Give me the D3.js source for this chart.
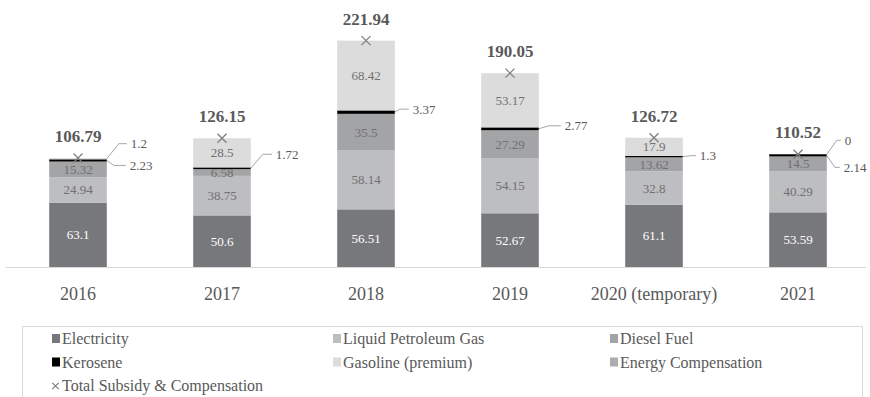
<!DOCTYPE html>
<html>
<head>
<meta charset="utf-8">
<script src="https://cdn.jsdelivr.net/npm/d3@7"></script>
<style>
  html, body { margin: 0; padding: 0; background: #fff; }
  svg { display: block; font-family: "Liberation Serif", "Times New Roman", serif; }
</style>
</head>
<body>
<svg id="chart" width="870" height="397"></svg>
<script>
// Subsidy & compensation by component (trillion rupiah)
const years = ["2016", "2017", "2018", "2019", "2020 (temporary)", "2021"];
const electricity = [63.1, 50.6, 56.51, 52.67, 61.1, 53.59];
const lpg = [24.94, 38.75, 58.14, 54.15, 32.8, 40.29];
const diesel = [15.32, 6.58, 35.5, 27.29, 13.62, 14.5];
const kerosene = [2.23, 1.72, 3.37, 2.77, 1.3, 2.14];
const gasoline = [1.2, 28.5, 68.42, 53.17, 17.9, 0];
const energyComp = [0, 0, 0, 0, 0, 0];
const totals = [106.79, 126.15, 221.94, 190.05, 126.72, 110.52];
const yTicks = [0, 50, 100, 150, 200, 250];

const seriesNames = ["Electricity", "Liquid Petroleum Gas", "Diesel Fuel", "Kerosene", "Gasoline (premium)", "Energy Compensation"];
const seriesKeys = ["electricity", "lpg", "diesel", "kerosene", "gasoline", "energyComp"];
const seriesValues = [electricity, lpg, diesel, kerosene, gasoline, energyComp];
const totalName = "Total Subsidy & Compensation";

// styling
const fills = {
  electricity: "#77787b", lpg: "#bdbec0", diesel: "#a3a4a6",
  kerosene: "#000000", gasoline: "#dcdcdd", energyComp: "#adadae"
};
const textGray = "#595959";
const innerGray = "#707070";

// leader-line placement for the thin segments: elbow offset from the
// bar's right edge / segment middle, then a short horizontal run
const leaders = [
  { year: "2016", key: "gasoline", dx: 12, dy: -15, len: 8 },
  { year: "2016", key: "kerosene", dx: 7, dy: 5, len: 12 },
  { year: "2017", key: "kerosene", dx: 12, dy: -14, len: 9 },
  { year: "2018", key: "kerosene", dx: 5, dy: -3, len: 9 },
  { year: "2019", key: "kerosene", dx: 10, dy: -3, len: 12 },
  { year: "2020 (temporary)", key: "kerosene", dx: 8, dy: -1, len: 5 },
  { year: "2021", key: "gasoline", dx: 10, dy: -14, len: 4 },
  { year: "2021", key: "kerosene", dx: 8, dy: 12, len: 5 }
];

const table = years.map((y, i) => {
  const row = { year: y, total: totals[i] };
  seriesKeys.forEach((k, j) => row[k] = seriesValues[j][i]);
  return row;
});

const svg = d3.select("#chart");

const x = d3.scaleBand().domain(years).range([6, 870]).paddingInner(0.6).paddingOuter(0.3);
const y = d3.scaleLinear().domain([yTicks[0], yTicks[yTicks.length - 1]]).range([267, 12]);

const stacked = d3.stack().keys(seriesKeys)(table);

// bars
const layers = svg.append("g").selectAll("g")
  .data(stacked).join("g")
  .attr("fill", d => fills[d.key]);

layers.selectAll("rect")
  .data(d => d.map(s => ({ key: d.key, s })))
  .join("rect")
  .attr("x", d => x(d.s.data.year))
  .attr("width", x.bandwidth())
  .attr("y", d => y(d.s[1]))
  .attr("height", d => Math.max(0, y(d.s[0]) - y(d.s[1])));

// baseline axis
const axis = svg.append("g").attr("transform", `translate(0,${y(0)})`)
  .call(d3.axisBottom(x).tickSize(0).tickPadding(0));
axis.select(".domain").attr("stroke", "#d9d9d9").attr("stroke-width", 1.2)
  .attr("d", `M6,0.5H866`);
axis.selectAll(".tick text")
  .attr("y", 33).attr("dy", 0)
  .attr("font-size", 18)
  .attr("font-family", "Liberation Serif, serif")
  .attr("fill", textGray);

// inside-segment value labels
const leaderSet = new Set(leaders.map(l => l.year + "|" + l.key));
const inside = [];
stacked.forEach(layer => {
  layer.forEach(s => {
    const v = s.data[layer.key];
    if (v > 0 && !leaderSet.has(s.data.year + "|" + layer.key)) {
      inside.push({ key: layer.key, year: s.data.year, v, mid: (s[0] + s[1]) / 2 });
    }
  });
});
svg.append("g").selectAll("text")
  .data(inside).join("text")
  .attr("x", d => x(d.year) + x.bandwidth() / 2)
  .attr("y", d => y(d.mid))
  .attr("dy", "0.35em")
  .attr("text-anchor", "middle")
  .attr("font-size", 13)
  .attr("fill", d => d.key === "electricity" ? "#ffffff" : innerGray)
  .text(d => d.v);

// leader lines + labels for the thin segments
const lg = svg.append("g");
leaders.forEach(l => {
  const layer = stacked.find(s => s.key === l.key);
  const s = layer.find(p => p.data.year === l.year);
  const x0 = x(l.year) + x.bandwidth();
  const y0 = y((s[0] + s[1]) / 2);
  const ex = x0 + l.dx, ey = y0 + l.dy;
  lg.append("path")
    .attr("d", `M${x0},${y0}L${ex},${ey}H${ex + l.len}`)
    .attr("fill", "none").attr("stroke", "#a6a6a6").attr("stroke-width", 1);
  lg.append("text")
    .attr("x", ex + l.len + 4).attr("y", ey).attr("dy", "0.35em")
    .attr("font-size", 13).attr("fill", textGray)
    .text(s.data[l.key]);
});

// totals: x markers and bold labels
const cross = (cx, cy, r) => `M${cx - r},${cy - r}L${cx + r},${cy + r}M${cx - r},${cy + r}L${cx + r},${cy - r}`;
svg.append("g").selectAll("path")
  .data(table).join("path")
  .attr("d", d => cross(x(d.year) + x.bandwidth() / 2, y(d.total), 4.5))
  .attr("stroke", "#7f7f7f").attr("stroke-width", 1.3).attr("fill", "none");

svg.append("g").selectAll("text")
  .data(table).join("text")
  .attr("x", d => x(d.year) + x.bandwidth() / 2)
  .attr("y", d => y(d.total) - 16)
  .attr("text-anchor", "middle")
  .attr("font-size", 17).attr("font-weight", "bold")
  .attr("fill", textGray)
  .text(d => d.total);

// legend
const legend = svg.append("g");
legend.append("rect")
  .attr("x", 22.5).attr("y", 326.5).attr("width", 840).attr("height", 90)
  .attr("fill", "none").attr("stroke", "#d9d9d9").attr("stroke-width", 1);

const colX = [52, 333, 610];
const rowY = [344, 367.5, 391];
seriesKeys.forEach((k, i) => {
  const cx = colX[i % 3], cy = rowY[Math.floor(i / 3)];
  legend.append("rect")
    .attr("x", cx).attr("y", cy - 10).attr("width", 8).attr("height", 9)
    .attr("fill", fills[k]);
  legend.append("text")
    .attr("x", cx + 10).attr("y", cy)
    .attr("font-size", 16).attr("fill", textGray)
    .text(seriesNames[i]);
});
legend.append("path")
  .attr("d", cross(colX[0] + 3.5, rowY[2] - 5, 3.2))
  .attr("stroke", "#7f7f7f").attr("stroke-width", 1.2).attr("fill", "none");
legend.append("text")
  .attr("x", colX[0] + 10).attr("y", rowY[2])
  .attr("font-size", 16).attr("fill", textGray)
  .text(totalName);
</script>
</body>
</html>
